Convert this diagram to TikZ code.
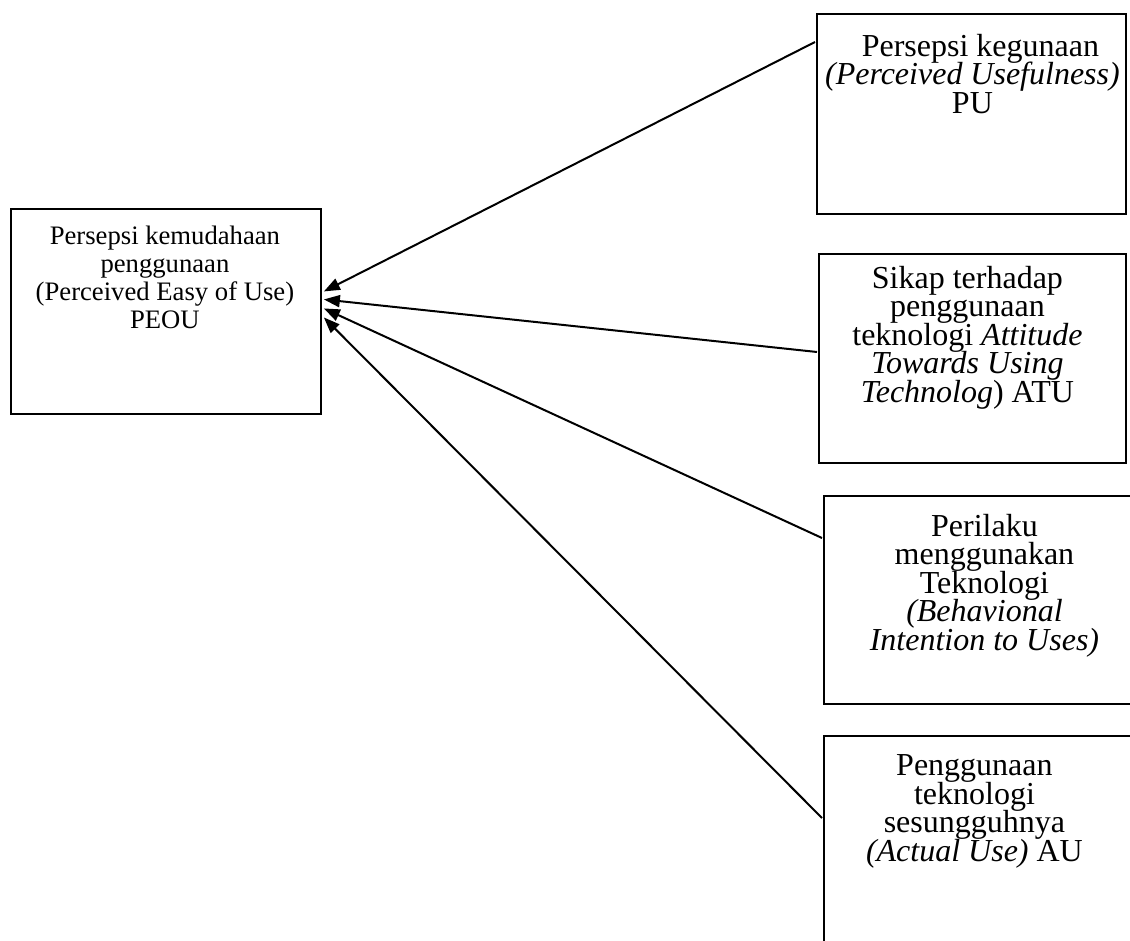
\documentclass[tikz,border=0pt]{standalone}
\usepackage{fontspec}
\setmainfont{Liberation Serif}
\usetikzlibrary{arrows.meta, positioning, calc}
\newcommand\tightlines{\lineskiplimit=-100pt\relax\lineskip=0pt\relax}
\tikzset{
  every picture/.style={line width=1.4pt, x=0.75pt, y=-0.75pt},
  box/.style={draw, rectangle, anchor=north west, inner sep=0pt},
  arrow/.style={-{Triangle[length=12pt, width=9pt]}, line width=1.5pt},
  txt/.style={align=center, inner sep=0pt, anchor=north,
              font={\fontsize{24}{21.4}\selectfont\tightlines}},
}

\begin{document}
\begin{tikzpicture}[
    smalltxt/.style={txt, font={\fontsize{20}{21}\selectfont\tightlines}}]
  \useasboundingbox (0,0) rectangle (1130,941);
  % left box
  \node[box, minimum width=310*0.75pt, minimum height=205*0.75pt] (PEOU) at (10,208) {};
  \node[smalltxt] (PEOUt) at ($(PEOU.north)+(-1,17)$)
    {Persepsi kemudahaan\\penggunaan\\(Perceived Easy of Use)\\PEOU};
  % name, left, top, width, height (px)
  \foreach \n/\x/\y/\w/\h in {PU/816/13/309/200, ATU/818/253/307/209,
                              BI/823/495/309/208, AU/823/735/309/260}
    \node[box, minimum width=\w*0.75pt, minimum height=\h*0.75pt] (\n) at (\x,\y) {};
  \node[txt] (PUt) at ($(PU.north)+(1,20)$)
    {\hspace*{0.5em}Persepsi kegunaan\\\textit{(Perceived Usefulness)}\\PU};
  \node[txt] (ATUt) at ($(ATU.north)+(-5,12)$)
    {Sikap terhadap\\penggunaan\\teknologi \textit{Attitude}\\\textit{Towards Using}\\\textit{Technolog}) ATU};
  \node[txt] (BIt) at ($(BI.north)+(6,18)$)
    {Perilaku\\menggunakan\\Teknologi\\\textit{(Behavional}\\\textit{Intention to Uses)}};
  \node[txt] (AUt) at ($(AU.north)+(-4,19)$)
    {Penggunaan\\teknologi\\sesungguhnya\\\textit{(Actual Use)} AU};
  % arrows into PEOU
  \foreach \n/\dy/\ey in {PU/29/-20, ATU/99/-12, BI/43/-3, AU/83/6}
    \draw[arrow] ($(\n.north west)+(-1,\dy)$) -- ($(PEOU.east)+(2,\ey)$);
\end{tikzpicture}
\end{document}
